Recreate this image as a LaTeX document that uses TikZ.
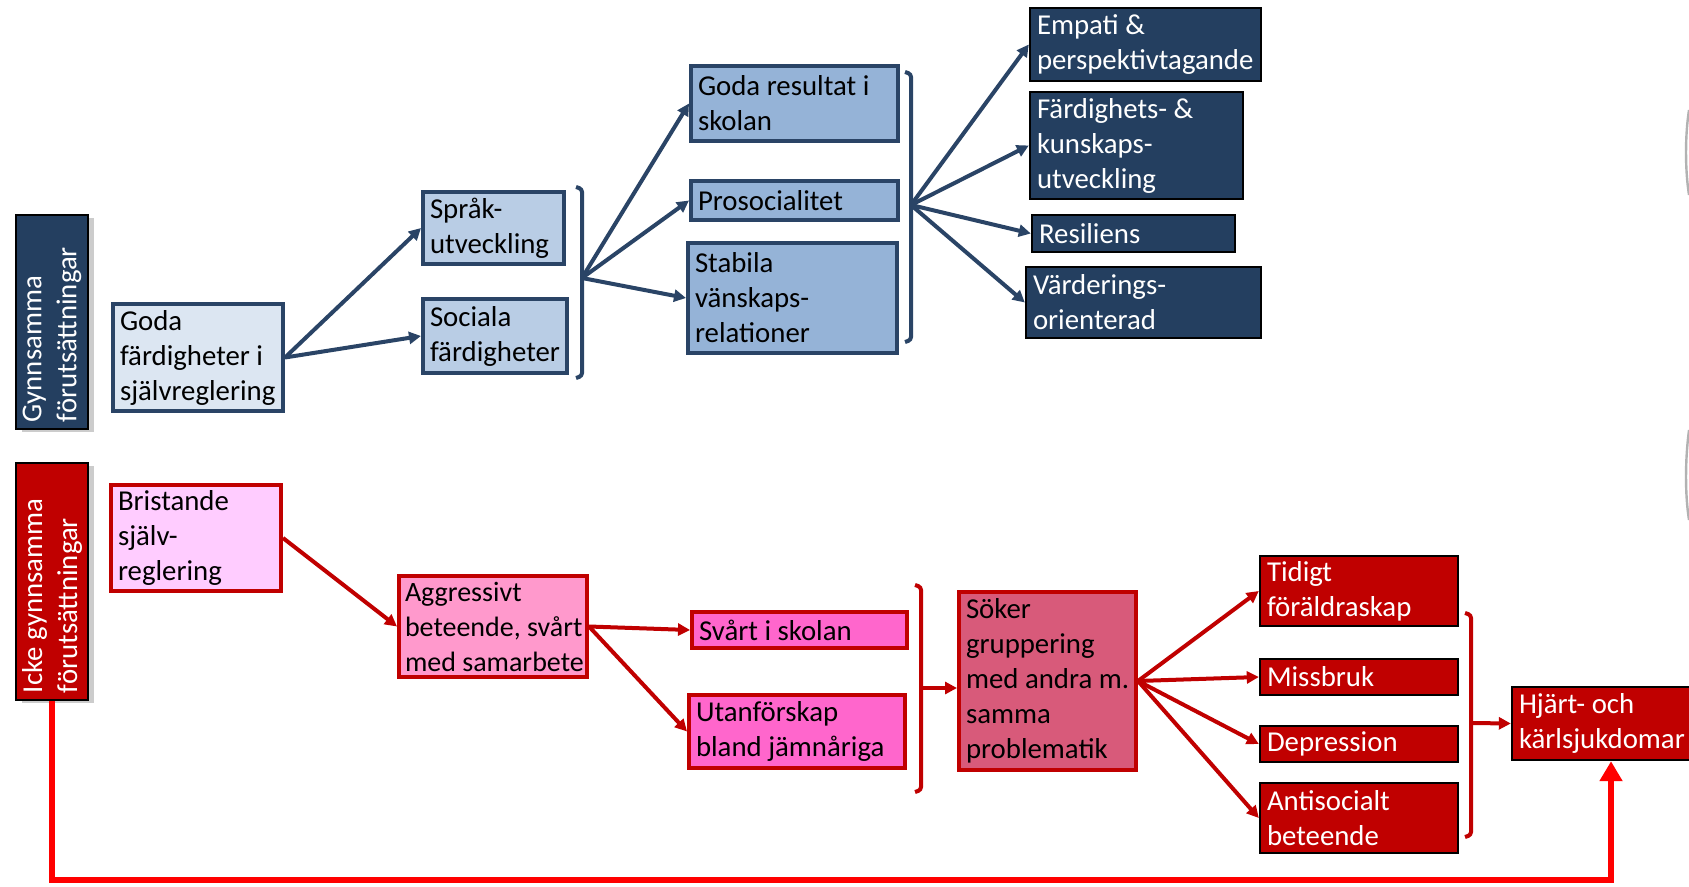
\documentclass[tikz,border=0pt]{standalone}
\usepackage{fontspec}
\setmainfont{Carlito}
\usetikzlibrary{arrows.meta,shadows}

\definecolor{navy}{HTML}{243F60}
\definecolor{navyline}{HTML}{2A4466}
\definecolor{lightblue}{HTML}{DCE6F2}
\definecolor{midblue}{HTML}{B9CDE5}
\definecolor{deepblue}{HTML}{95B3D7}
\definecolor{darkred}{HTML}{C00000}
\definecolor{palepink}{HTML}{FFCCFF}
\definecolor{midpink}{HTML}{FF99CC}
\definecolor{hotpink}{HTML}{FF66CC}
\definecolor{rose}{HTML}{D85A7A}

\begin{document}
\begin{tikzpicture}[x=0.5pt,y=-0.5pt,
	font=\fontsize{14.4}{17.5}\selectfont,
	block/.style={draw,line width=2pt,align=flush left,inner xsep=3.5pt,inner ysep=1pt},
	bar/.style={block,line width=1.2pt,draw=black,text=white,rotate=90,minimum height=36pt,
		drop shadow={shadow xshift=3pt,shadow yshift=-1.5pt,opacity=0.4}},
	topblock/.style={block,draw=navyline},
	navyblock/.style={block,line width=1.2pt,draw=black,fill=navy,text=white},
	botblock/.style={block,draw=darkred},
	redblock/.style={block,line width=1.2pt,draw=black,fill=darkred,text=white},
	bluearrow/.style={draw=navyline,line width=2pt,-{Triangle[length=6pt,width=6pt]}},
	redarrow/.style={draw=darkred,line width=2pt,-{Triangle[length=6pt,width=6pt]}},
	bracket/.style={line width=2pt,rounded corners=1.5pt}
	]
		\useasboundingbox (0,0) rectangle (1689,887);
		
		% gynnsamma
		\path (52,322) node[bar,fill=navy,minimum width=107pt,text width=100pt] (gyn) {Gynnsamma\\förutsättningar};
		\path (198,357.5) node[topblock,fill=lightblue,minimum width=85pt,minimum height=53.5pt,text width=78pt] (goda) {Goda\\färdigheter i\\\mbox{självreglering}};
		\path (493.5,228) node[topblock,fill=midblue,minimum width=70.5pt,minimum height=36pt,text width=63.5pt] (sprak) {Språk-\\utveckling};
		\path (495,336) node[topblock,fill=midblue,minimum width=72pt,minimum height=37pt,text width=65pt] (sociala) {Sociala\\färdigheter};
		\draw (goda.east) edge[bluearrow] (sprak.west) edge[bluearrow] (sociala.west);
		
		\draw[bracket,navyline] (576,187) -- (582,189) -- (582,376) -- (576,378);
		\coordinate (b1) at (582,278);
		\path (794.5,103.5) node[topblock,fill=deepblue,minimum width=103.5pt,minimum height=37.5pt,text width=96.5pt] (godares) {Goda resultat i\\skolan};
		\path (794.5,200.5) node[topblock,fill=deepblue,minimum width=103.5pt,minimum height=19.5pt,text width=96.5pt] (prosoc) {Prosocialitet};
		\path (792.5,298) node[topblock,fill=deepblue,minimum width=104.5pt,minimum height=55pt,text width=97.5pt] (stabila) {Stabila\\vänskaps-\\relationer};
		\draw (b1) edge[bluearrow] (godares.west) edge[bluearrow] (prosoc.west) edge[bluearrow] (stabila.west);
		
		\draw[bracket,navyline] (905,72) -- (911,74) -- (911,340) -- (905,342);
		\coordinate (b2) at (911,205);
		\path (1145.5,44.5) node[navyblock,minimum width=115.5pt,minimum height=36.5pt,text width=108.5pt] (empati) {Empati \&\\perspektivtagande};
		\path (1136.5,145.5) node[navyblock,minimum width=106.5pt,minimum height=53.5pt,text width=99.5pt] (fardig) {Färdighets- \&\\kunskaps-\\utveckling};
		\path (1133.5,233.5) node[navyblock,minimum width=101.5pt,minimum height=18.5pt,text width=94.5pt] (resil) {Resiliens};
		\path (1143.5,302.5) node[navyblock,minimum width=117.5pt,minimum height=35.5pt,text width=110.5pt] (varder) {Värderings-\\orienterad};
		\draw (b2) edge[bluearrow] (empati.west) edge[bluearrow] (fardig.west) edge[bluearrow] (resil.west) edge[bluearrow] (varder.west);
		
		% icke gynnsamma
		\path (52,581.5) node[bar,fill=darkred,minimum width=118.5pt,text width=111.5pt] (icke) {Icke gynnsamma\\förutsättningar};
		\path (196,538) node[botblock,fill=palepink,minimum width=85pt,minimum height=53pt,text width=78pt] (brist) {Bristande\\själv-\\reglering};
		\path (493,626.5) node[botblock,fill=midpink,minimum width=94pt,minimum height=50.5pt,text width=88pt,inner xsep=3pt,font=\fontsize{14}{17.5}\selectfont] (aggr) {Aggressivt\\\mbox{beteende, svårt}\\\mbox{med samarbete}};
		\draw[redarrow] (brist.east) -- (aggr.west);
		\path (799.5,630) node[botblock,fill=hotpink,minimum width=107.5pt,minimum height=18pt,text width=100.5pt] (svart) {Svårt i skolan};
		\path (797,731.5) node[botblock,fill=hotpink,minimum width=108pt,minimum height=36.5pt,text width=101pt] (utan) {Utanförskap\\bland jämnåriga};
		\draw (aggr.east) edge[redarrow] (svart.west) edge[redarrow] (utan.west);
		
		\draw[bracket,darkred] (915,585) -- (921,587) -- (921,790) -- (915,792);
		\coordinate (b3) at (921,688);
		\path (1047.5,681) node[botblock,fill=rose,minimum width=88.5pt,minimum height=89pt,text width=81.5pt] (soker) {Söker\\gruppering\\\mbox{med andra m.}\\samma\\problematik};
		\draw[redarrow] (b3) -- (b3 -| soker.west);
		
		\path (1359,591) node[redblock,minimum width=99pt,minimum height=35pt,text width=92pt] (tidigt) {Tidigt\\föräldraskap};
		\path (1359,677) node[redblock,minimum width=99pt,minimum height=18pt,text width=92pt] (missbruk) {Missbruk};
		\path (1359,744) node[redblock,minimum width=99pt,minimum height=18pt,text width=92pt] (depr) {Depression};
		\path (1359,818) node[redblock,minimum width=99pt,minimum height=35pt,text width=92pt] (antis) {Antisocialt\\beteende};
		\draw (soker.east) edge[redarrow] (tidigt.west) edge[redarrow] (missbruk.west) edge[redarrow] (depr.west) edge[redarrow] (antis.west);
		
		\draw[bracket,darkred] (1465,613) -- (1471,615) -- (1471,835) -- (1465,837);
		\coordinate (b4) at (1471,723);
		\path (1611,723.5) node[redblock,minimum width=99pt,minimum height=36.5pt,text width=92pt] (hjart) {Hjärt- och\\kärlsjukdomar};
		\draw[redarrow] (b4) -- (hjart.west);
		
		\coordinate (low) at (0,880);
		\draw[red,line width=3pt,-{Triangle[length=10pt,width=11pt]}] (icke.west) -- (icke.west |- low) -| (hjart.south);
		
		\draw[gray!60,line width=1.2pt] (1689,110) .. controls (1685,135) and (1685,170) .. (1689,195);
		\draw[gray!60,line width=1.2pt] (1689,430) .. controls (1685,460) and (1685,495) .. (1689,520);
		
	\end{tikzpicture}
\end{document}
